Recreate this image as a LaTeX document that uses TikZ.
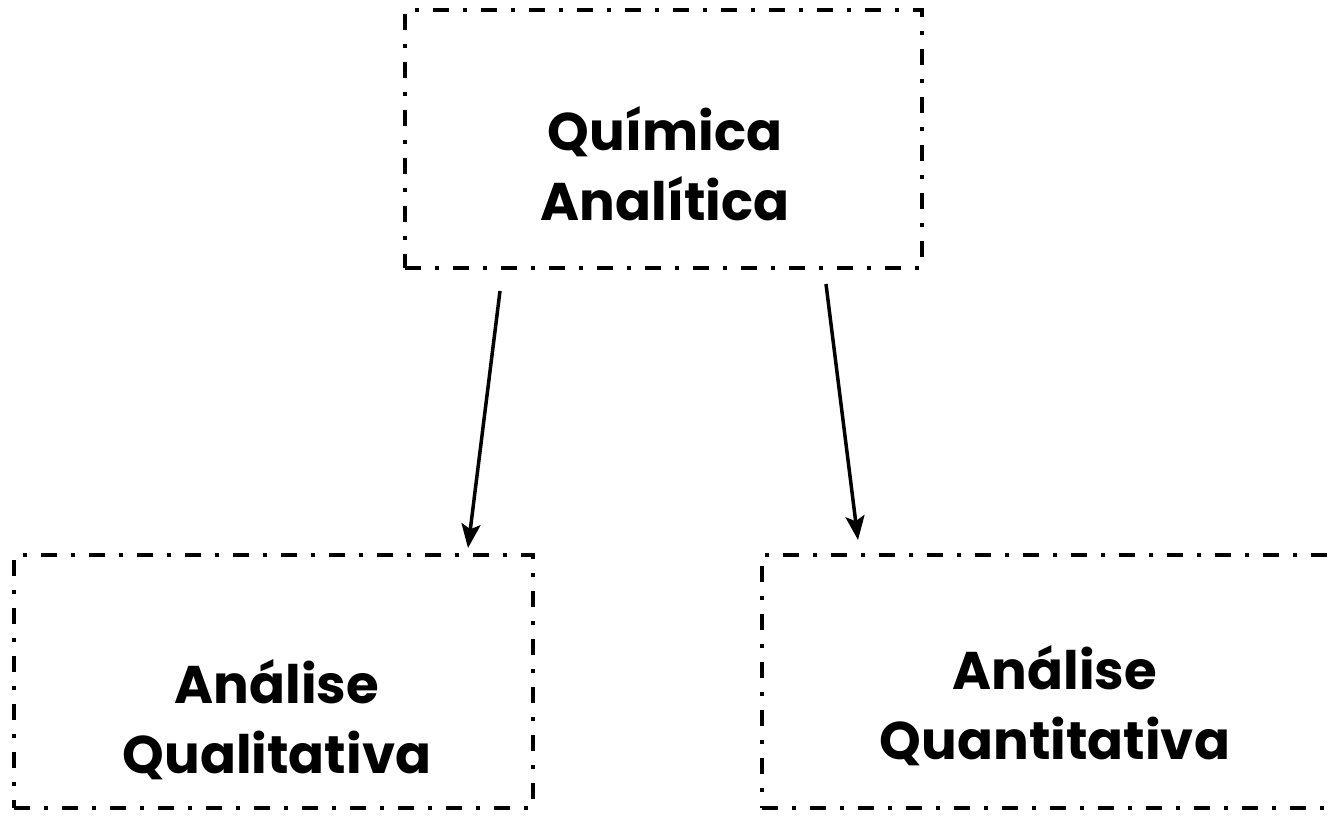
\documentclass[tikz,border=0pt]{standalone}
\usepackage{fontspec}
\setmainfont{Poppins}
\usetikzlibrary{arrows.meta,positioning}
\tikzset{seta/.style={line width=3.5pt, -{Stealth[length=24pt, width=19pt, inset=5pt]}},
  caixa/.style={draw, line width=3.5pt, dash pattern=on 16pt off 14pt on 4pt off 14pt,
    minimum width=517pt, minimum height=258pt},
  rotulo/.style={font=\bfseries\fontsize{53}{70}\selectfont, align=center}}

\begin{document}
\begin{tikzpicture}[x=1pt, y=-1pt]
  \useasboundingbox (0,0) rectangle (1336,815);
  % boxes
  \node[caixa] (quimica) at (663.5,139) {};
  \node[caixa, minimum width=519pt, minimum height=253pt] (quali) at (273.5,681.5) {};
  \node[caixa, minimum width=588pt, minimum height=253pt] (quanti) at (1056,681.5) {};
  % texts
  \node[rotulo] (tquimica) at (665,164) {Química\\Analítica};
  \node[rotulo] (tquali) at (277,720) {Análise\\Qualitativa};
  \node[rotulo] (tquanti) at (1055,706) {Análise\\Quantitativa};
  % arrows
  \coordinate (q1) at (500,291);
  \coordinate (q2) at (826,284);
  \coordinate (e1) at (468,548);
  \coordinate (e2) at (858,540);
  \draw[seta] (q1) -- (e1);
  \draw[seta] (q2) -- (e2);
\end{tikzpicture}
\end{document}
